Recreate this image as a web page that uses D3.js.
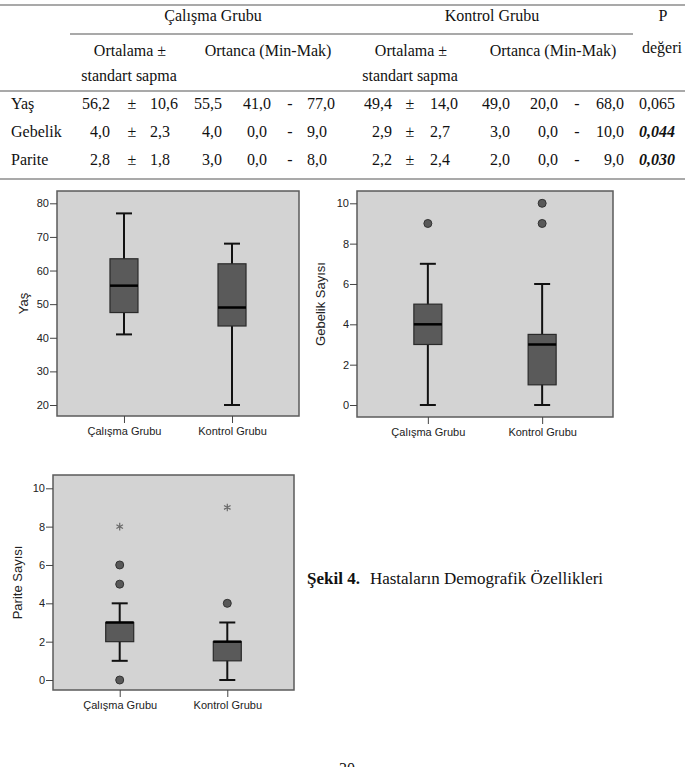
<!DOCTYPE html>
<html>
<head>
<meta charset="utf-8">
<script src="https://cdn.jsdelivr.net/npm/d3@7"></script>
<style>
  body { margin: 0; background: #fff; }
  .serif { font-family: 'Liberation Serif', 'Times New Roman', serif; font-size: 16px; fill: #111; }
  .sans { font-family: 'Liberation Sans', Arial, sans-serif; fill: #222; }
</style>
</head>
<body>
<div id="app"></div>
<script>
// Table data
const rowLabels = ['Yaş', 'Gebelik', 'Parite'];
const calismaMean = ['56,2', '4,0', '2,8'];
const calismaSd = ['10,6', '2,3', '1,8'];
const calismaMedian = ['55,5', '4,0', '3,0'];
const calismaMin = ['41,0', '0,0', '0,0'];
const calismaMax = ['77,0', '9,0', '8,0'];
const kontrolMean = ['49,4', '2,9', '2,2'];
const kontrolSd = ['14,0', '2,7', '2,4'];
const kontrolMedian = ['49,0', '3,0', '2,0'];
const kontrolMin = ['20,0', '0,0', '0,0'];
const kontrolMax = ['68,0', '10,0', '9,0'];
const pValues = ['0,065', '0,044', '0,030'];

// Boxplot data
const groups = ['Çalışma Grubu', 'Kontrol Grubu'];
const yasBoxes = [
  { min: 41, q1: 47.5, med: 55.5, q3: 63.5, max: 77, out: [], ext: [] },
  { min: 20, q1: 43.5, med: 49, q3: 62, max: 68, out: [], ext: [] },
];
const gebelikBoxes = [
  { min: 0, q1: 3, med: 4, q3: 5, max: 7, out: [9], ext: [] },
  { min: 0, q1: 1, med: 3, q3: 3.5, max: 6, out: [9, 10], ext: [] },
];
const pariteBoxes = [
  { min: 1, q1: 2, med: 3, q3: 3, max: 4, out: [0, 5, 6], ext: [8] },
  { min: 0, q1: 1, med: 2, q3: 2, max: 3, out: [4], ext: [9] },
];
const yasTicks = [20, 30, 40, 50, 60, 70, 80];
const countTicks = [0, 2, 4, 6, 8, 10];

const width = 694;
const height = 767;

const svg = d3.select('#app')
  .append('svg')
  .attr('width', width)
  .attr('height', height);

svg.append('rect').attr('width', width).attr('height', height).attr('fill', '#fff');

// ---------- Table ----------
const table = svg.append('g').attr('id', 'table');
const rule = (x1, x2, y) => table.append('line')
  .attr('x1', x1).attr('x2', x2).attr('y1', y).attr('y2', y)
  .attr('stroke', '#555').attr('stroke-width', 1.2);
rule(0, 685, 5);
rule(70, 633, 34);
rule(0, 685, 91);
rule(0, 685, 179);

const headText = (x, y, t) => table.append('text')
  .attr('class', 'serif').attr('x', x).attr('y', y)
  .attr('text-anchor', 'middle').text(t);
headText(213, 21, 'Çalışma  Grubu');
headText(492, 21, 'Kontrol Grubu');
headText(663, 21, 'P');
headText(662, 53, 'değeri');
headText(130, 56, 'Ortalama ±');
headText(129, 81, 'standart sapma');
headText(268, 56, 'Ortanca (Min-Mak)');
headText(411, 56, 'Ortalama ±');
headText(410, 81, 'standart sapma');
headText(553, 56, 'Ortanca (Min-Mak)');

const columns = [
  { vals: rowLabels, x: 11, anchor: 'start' },
  { vals: calismaMean, x: 110, anchor: 'end' },
  { vals: rowLabels.map(() => '±'), x: 132, anchor: 'middle' },
  { vals: calismaSd, x: 150, anchor: 'start' },
  { vals: calismaMedian, x: 222, anchor: 'end' },
  { vals: calismaMin, x: 257, anchor: 'middle' },
  { vals: rowLabels.map(() => '-'), x: 290, anchor: 'middle' },
  { vals: calismaMax, x: 307, anchor: 'start' },
  { vals: kontrolMean, x: 392, anchor: 'end' },
  { vals: rowLabels.map(() => '±'), x: 410, anchor: 'middle' },
  { vals: kontrolSd, x: 430, anchor: 'start' },
  { vals: kontrolMedian, x: 510, anchor: 'end' },
  { vals: kontrolMin, x: 558, anchor: 'end' },
  { vals: rowLabels.map(() => '-'), x: 577, anchor: 'middle' },
  { vals: kontrolMax, x: 624, anchor: 'end' },
  { vals: pValues, x: 657, anchor: 'middle', p: true },
];
const rowY = [109, 137, 165];
columns.forEach((col) => {
  table.selectAll(null)
    .data(col.vals)
    .join('text')
    .attr('class', 'serif')
    .attr('x', col.x)
    .attr('y', (d, i) => rowY[i])
    .attr('text-anchor', col.anchor)
    .style('font-weight', (d) => (col.p && parseFloat(d.replace(',', '.')) < 0.05 ? 'bold' : null))
    .style('font-style', (d) => (col.p && parseFloat(d.replace(',', '.')) < 0.05 ? 'italic' : null))
    .text((d) => d);
});

// ---------- Boxplots ----------
function boxPlot(cfg) {
  const g = svg.append('g');
  const { left, right, top, bottom } = cfg.frame;

  g.append('rect')
    .attr('x', left).attr('y', top)
    .attr('width', right - left).attr('height', bottom - top)
    .attr('fill', '#d3d3d3')
    .attr('stroke', '#5b5b5b')
    .attr('stroke-width', 1.5);

  const y = d3.scaleLinear().domain(cfg.domain).range(cfg.range);
  const x = d3.scalePoint().domain(groups).range([left, right]).padding(0.62);

  const yAxis = d3.axisLeft(y).tickValues(cfg.ticks).tickSize(7).tickPadding(1);
  const ya = g.append('g').attr('transform', `translate(${left},0)`).call(yAxis);
  ya.select('.domain').remove();
  ya.selectAll('line').attr('stroke', '#444');
  ya.selectAll('text').style('font-size', '11px')
    .style('font-family', "'Liberation Sans', Arial, sans-serif").attr('fill', '#222');

  const xAxis = d3.axisBottom(x).tickSize(7).tickPadding(4);
  const xa = g.append('g').attr('transform', `translate(0,${bottom})`).call(xAxis);
  xa.select('.domain').remove();
  xa.selectAll('line').attr('stroke', '#444');
  xa.selectAll('text').style('font-size', '11px')
    .style('font-family', "'Liberation Sans', Arial, sans-serif").attr('fill', '#222');

  g.append('text')
    .attr('class', 'sans')
    .attr('transform', `translate(${cfg.labelX},${(top + bottom) / 2}) rotate(-90)`)
    .attr('text-anchor', 'middle')
    .attr('dy', '0.35em')
    .style('font-size', '13px')
    .attr('fill', '#444')
    .text(cfg.label);

  const boxW = 28;
  const capW = 16;
  const items = g.selectAll('.box')
    .data(cfg.data)
    .join('g')
    .attr('class', 'box')
    .attr('transform', (d, i) => `translate(${x(groups[i])},0)`);

  items.append('line')
    .attr('x1', 0).attr('x2', 0)
    .attr('y1', (d) => y(d.max)).attr('y2', (d) => y(d.min))
    .attr('stroke', '#111').attr('stroke-width', 2);
  items.append('line')
    .attr('x1', -capW / 2).attr('x2', capW / 2)
    .attr('y1', (d) => y(d.max)).attr('y2', (d) => y(d.max))
    .attr('stroke', '#111').attr('stroke-width', 2);
  items.append('line')
    .attr('x1', -capW / 2).attr('x2', capW / 2)
    .attr('y1', (d) => y(d.min)).attr('y2', (d) => y(d.min))
    .attr('stroke', '#111').attr('stroke-width', 2);
  items.append('rect')
    .attr('x', -boxW / 2).attr('width', boxW)
    .attr('y', (d) => y(d.q3))
    .attr('height', (d) => y(d.q1) - y(d.q3))
    .attr('fill', '#5a5a5a')
    .attr('stroke', '#2a2a2a')
    .attr('stroke-width', 1.2);
  items.append('line')
    .attr('x1', -boxW / 2).attr('x2', boxW / 2)
    .attr('y1', (d) => y(d.med)).attr('y2', (d) => y(d.med))
    .attr('stroke', '#000').attr('stroke-width', 2.5);

  items.selectAll('circle')
    .data((d) => d.out)
    .join('circle')
    .attr('cx', 0).attr('cy', (v) => y(v))
    .attr('r', 4)
    .attr('fill', '#585858')
    .attr('stroke', '#333')
    .attr('stroke-width', 1);

  items.selectAll('.star')
    .data((d) => d.ext)
    .join('path')
    .attr('class', 'star')
    .attr('transform', (v) => `translate(0,${y(v)})`)
    .attr('d', d3.symbol(d3.symbolAsterisk, 40))
    .attr('fill', 'none')
    .attr('stroke', '#6a6a6a')
    .attr('stroke-width', 1.2);
}

boxPlot({
  frame: { left: 57, right: 299, top: 191, bottom: 416 },
  domain: [20, 80], range: [405, 203.3],
  ticks: yasTicks, data: yasBoxes, label: 'Yaş', labelX: 23,
});
boxPlot({
  frame: { left: 357, right: 613, top: 191, bottom: 417 },
  domain: [0, 10], range: [405, 203.3],
  ticks: countTicks, data: gebelikBoxes, label: 'Gebelik Sayısı', labelX: 320,
});
boxPlot({
  frame: { left: 53, right: 294, top: 475, bottom: 690 },
  domain: [0, 10], range: [680, 488.3],
  ticks: countTicks, data: pariteBoxes, label: 'Parite Sayısı', labelX: 17,
});

// Caption
const cap = svg.append('text')
  .attr('class', 'serif')
  .style('font-size', '17px')
  .attr('x', 307)
  .attr('y', 584);
cap.append('tspan').style('font-weight', 'bold').text('Şekil 4.');
cap.append('tspan').attr('dx', 10).text('Hastaların Demografik Özellikleri');

// Page number (sits at the bottom edge, as on the page)
svg.append('text')
  .attr('class', 'serif')
  .attr('x', 347)
  .attr('y', 774)
  .attr('text-anchor', 'middle')
  .text('30');
</script>
</body>
</html>
